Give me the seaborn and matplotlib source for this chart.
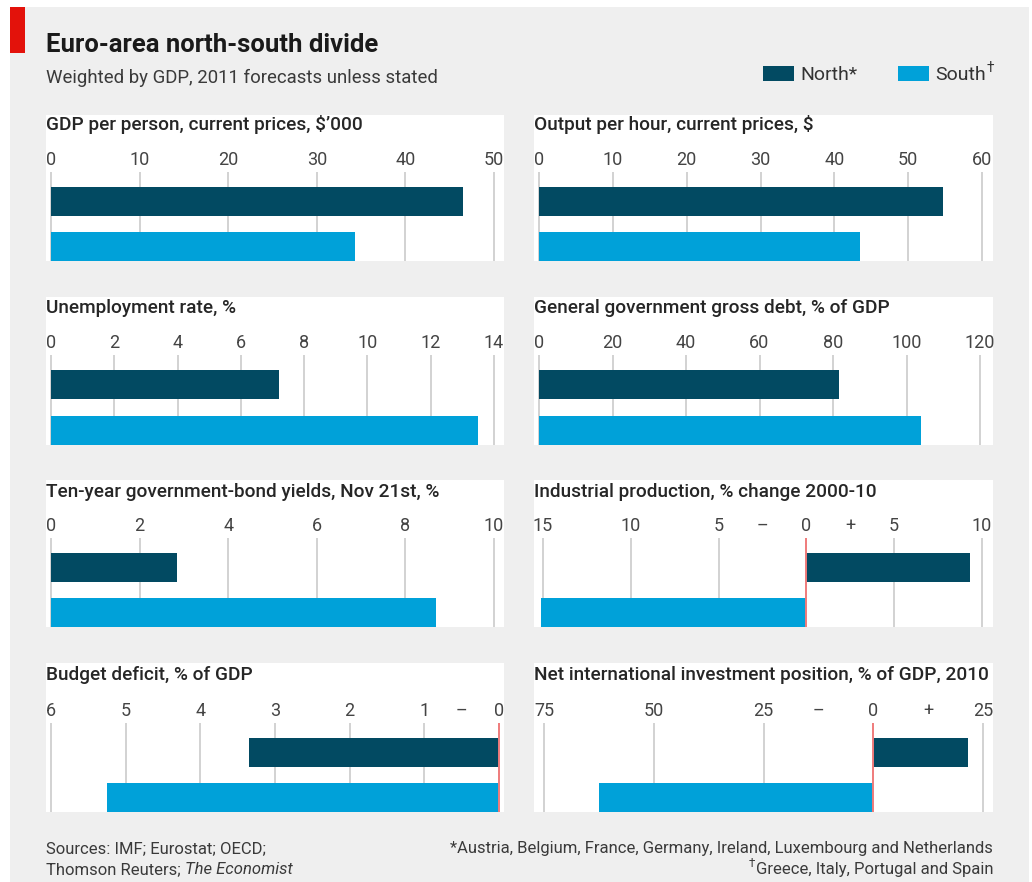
import numpy as np
import pandas as pd
import matplotlib
matplotlib.use("Agg")
import matplotlib.pyplot as plt
from matplotlib.patches import Rectangle
import seaborn as sns

# ---------------- data ----------------
groups = ["North", "South"]

gdp_per_person = [46.5, 34.3]
output_per_hour = [54.7, 43.5]
unemployment = [7.2, 13.5]
gross_debt = [81.5, 104.0]
bond_yields = [2.85, 8.7]
industrial_prod = [9.3, -15.1]
budget_balance = [-3.35, -5.25]
niip = [21.6, -62.4]

titles = [
    "GDP per person, current prices, $\u2019000",
    "Output per hour, current prices, $",
    "Unemployment rate, %",
    "General government gross debt, % of GDP",
    "Ten-year government-bond yields, Nov 21st, %",
    "Industrial production, % change 2000-10",
    "Budget deficit, % of GDP",
    "Net international investment position, % of GDP, 2010",
]

gdp_ticks = [0, 10, 20, 30, 40, 50]
oph_ticks = [0, 10, 20, 30, 40, 50, 60]
unemp_ticks = [0, 2, 4, 6, 8, 10, 12, 14]
debt_ticks = [0, 20, 40, 60, 80, 100, 120]
bond_ticks = [0, 2, 4, 6, 8, 10]
ip_ticks = [-15, -10, -5, -2.5, 0, 2.5, 5, 10]
ip_labels = ["15", "10", "5", "\u2013", "0", "+", "5", "10"]
ip_grid = [-15, -10, -5, 5, 10]
bud_ticks = [-6, -5, -4, -3, -2, -1, -0.5, 0]
bud_labels = ["6", "5", "4", "3", "2", "1", "\u2013", "0"]
bud_grid = [-6, -5, -4, -3, -2, -1]
niip_ticks = [-75, -50, -25, -12.5, 0, 12.5, 25]
niip_labels = ["75", "50", "25", "\u2013", "0", "+", "25"]
niip_grid = [-75, -50, -25, 25]

# ---------------- style ----------------
W, H = 1032, 882
NORTH_C = "#024a62"
SOUTH_C = "#00a1d9"
BG = "#efefef"
GRID_C = "#c6c6c6"
ZERO_C = "#ef7b7b"
TXT = "#262626"
TICK_C = "#444444"

sns.set_style("white")
plt.rcParams["font.family"] = ["Roboto", "DejaVu Sans"]

fig = plt.figure(figsize=(W / 100, H / 100), dpi=100)
fig.patch.set_facecolor("white")
renderer = fig.canvas.get_renderer()


def fx(x):
    return x / W


def fy(y):
    return 1 - y / H


def add_rect(x0, y0, x1, y1, color, z):
    fig.add_artist(Rectangle((fx(x0), fy(y1)), (x1 - x0) / W, (y1 - y0) / H,
                             transform=fig.transFigure, color=color, zorder=z, lw=0))


def fit_size(s, width, **kw):
    t = fig.text(0, 0, s, fontsize=20, **kw)
    w = t.get_window_extent(renderer).width
    t.remove()
    return 20 * width / w


def put(x, y, s, size, ha="left", **kw):
    return fig.text(fx(x), fy(y), s, fontsize=size, ha=ha, va="baseline", **kw)


# background
add_rect(10, 7, 1029, H, BG, -3)
add_rect(10, 7, 25, 53, "#e3120b", -2)

# header
put(46, 52, "Euro-area north-south divide",
    fit_size("Euro-area north-south divide", 331, fontweight="bold"),
    fontweight="bold", color="#1a1a1a")
put(46, 83, "Weighted by GDP, 2011 forecasts unless stated",
    fit_size("Weighted by GDP, 2011 forecasts unless stated", 392), color="#3a3a3a")

# legend
leg_size = fit_size("North*", 57)
add_rect(763, 66, 794, 81, NORTH_C, -1)
add_rect(898, 66, 929, 81, SOUTH_C, -1)
put(800, 80, "North*", leg_size, color="#333333")
ts = put(935, 80, "South", leg_size, color="#333333")
xe = ts.get_window_extent(renderer).x1
put(xe + 1, 72, "\u2020", leg_size * 0.7, color="#333333")

# ---------------- panels ----------------
cols = [(46, 504), (534, 993)]
rows = [  # white top, title baseline, axes top, bottom
    (115, 130, 172, 261),
    (297, 313, 355, 445),
    (480, 497, 538, 627),
    (663, 680, 723, 812),
]

panels = [
    dict(values=gdp_per_person, ticks=gdp_ticks, labels=[str(t) for t in gdp_ticks],
         grid=gdp_ticks, zero=False, map=(51, 494, 0, 50)),
    dict(values=output_per_hour, ticks=oph_ticks, labels=[str(t) for t in oph_ticks],
         grid=oph_ticks, zero=False, map=(539, 982, 0, 60)),
    dict(values=unemployment, ticks=unemp_ticks, labels=[str(t) for t in unemp_ticks],
         grid=unemp_ticks, zero=False, map=(51, 494, 0, 14)),
    dict(values=gross_debt, ticks=debt_ticks, labels=[str(t) for t in debt_ticks],
         grid=debt_ticks, zero=False, map=(539, 980, 0, 120)),
    dict(values=bond_yields, ticks=bond_ticks, labels=[str(t) for t in bond_ticks],
         grid=bond_ticks, zero=False, map=(51, 494, 0, 10)),
    dict(values=industrial_prod, ticks=ip_ticks, labels=ip_labels,
         grid=ip_grid, zero=True, map=(543, 982, -15, 10)),
    dict(values=budget_balance, ticks=bud_ticks, labels=bud_labels,
         grid=bud_grid, zero=True, map=(51, 499, -6, 0)),
    dict(values=niip, ticks=niip_ticks, labels=niip_labels,
         grid=niip_grid, zero=True, map=(544, 983, -75, 25)),
]

title_size = fit_size(titles[7], 454, fontweight="medium")

for i, p in enumerate(panels):
    L, R = cols[i % 2]
    wt, tb, at, bt = rows[i // 2]
    add_rect(L, wt, R, bt, "white", -1)
    put(L, tb, titles[i], title_size, fontweight="medium", color=TXT)

    ax = fig.add_axes([fx(L), fy(bt), (R - L) / W, (bt - at) / H])
    ax.set_facecolor("none")
    df = pd.DataFrame({"group": groups, "value": p["values"]})
    sns.barplot(data=df, x="value", y="group", hue="group", order=groups,
                hue_order=groups, palette=[NORTH_C, SOUTH_C], dodge=False,
                saturation=1, width=0.644, errorbar=None, orient="h",
                legend=False, ax=ax, zorder=3, linewidth=0)

    p0, p1, v0, v1 = p["map"]
    s = (p1 - p0) / (v1 - v0)
    ax.set_xlim(v0 + (L - p0) / s, v0 + (R - p0) / s)
    ax.set_ylim(1.322, -0.656)

    for g in p["grid"]:
        ax.axvline(g, color=GRID_C, lw=1.1, zorder=1)
    if p["zero"]:
        ax.axvline(0, color=ZERO_C, lw=1.4, zorder=4)

    ax.xaxis.tick_top()
    ax.set_xticks(p["ticks"])
    ax.set_xticklabels(p["labels"])
    ax.tick_params(axis="x", length=0, pad=2.3, labelsize=13, labelcolor=TICK_C)
    ax.set_yticks([])
    ax.set_xlabel("")
    ax.set_ylabel("")
    ax.grid(False)
    for sp in ax.spines.values():
        sp.set_visible(False)

# ---------------- footer ----------------
foot_txt = "*Austria, Belgium, France, Germany, Ireland, Luxembourg and Netherlands"
foot_size = fit_size(foot_txt, 544)
put(46, 853, "Sources: IMF; Eurostat; OECD;", foot_size, color="#3a3a3a")
t1 = put(46, 874, "Thomson Reuters; ", foot_size, color="#3a3a3a")
x1 = t1.get_window_extent(renderer).x1
put(x1, 874, "The Economist", foot_size, color="#3a3a3a", style="italic")
put(993, 853, foot_txt, foot_size, ha="right", color="#3a3a3a")
tg = put(993, 874, "Greece, Italy, Portugal and Spain", foot_size, ha="right", color="#3a3a3a")
xg = tg.get_window_extent(renderer).x0
put(xg - 0.5, 867, "\u2020", foot_size * 0.7, ha="right", color="#3a3a3a")

fig.savefig("out.png", dpi=100)
